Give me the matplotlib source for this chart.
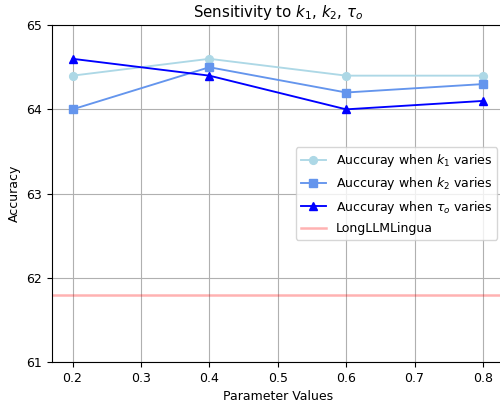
import matplotlib
matplotlib.use("Agg")
from matplotlib import pyplot as plt

# Data
params = [0.2, 0.4, 0.6, 0.8]
acc_k1 = [64.4, 64.6, 64.4, 64.4]
acc_k2 = [64.0, 64.5, 64.2, 64.3]
acc_tau = [64.6, 64.4, 64.0, 64.1]
baseline = 61.8

plt.rcParams['font.size'] = 9
plt.rcParams['lines.linewidth'] = 1.35
plt.rcParams['lines.markersize'] = 5.6

fig = plt.figure(figsize=(5, 4.05), dpi=100)
ax = fig.add_axes([0.104, 0.106, 0.903, 0.832])

ax.plot(params, acc_k1, marker='o', color='lightblue', label=r'Auccuray when $k_1$ varies')
ax.plot(params, acc_k2, marker='s', color='cornflowerblue', label=r'Auccuray when $k_2$ varies')
ax.plot(params, acc_tau, marker='^', color='blue', label=r'Auccuray when $\tau_o$ varies')
ax.axhline(baseline, color='red', alpha=0.3, linewidth=1.8, label='LongLLMLingua')

ax.set_ylim(61, 65)
ax.set_yticks([61, 62, 63, 64, 65])
ax.set_xlim(0.17, 0.83)
ax.set_xticks([0.2, 0.3, 0.4, 0.5, 0.6, 0.7, 0.8])
ax.grid(True)
ax.set_xlabel('Parameter Values')
ax.set_ylabel('Accuracy')
ax.set_title(r'Sensitivity to $k_1$, $k_2$, $\tau_o$')
ax.legend(loc='center right')

fig.savefig('out.png', dpi=100)
